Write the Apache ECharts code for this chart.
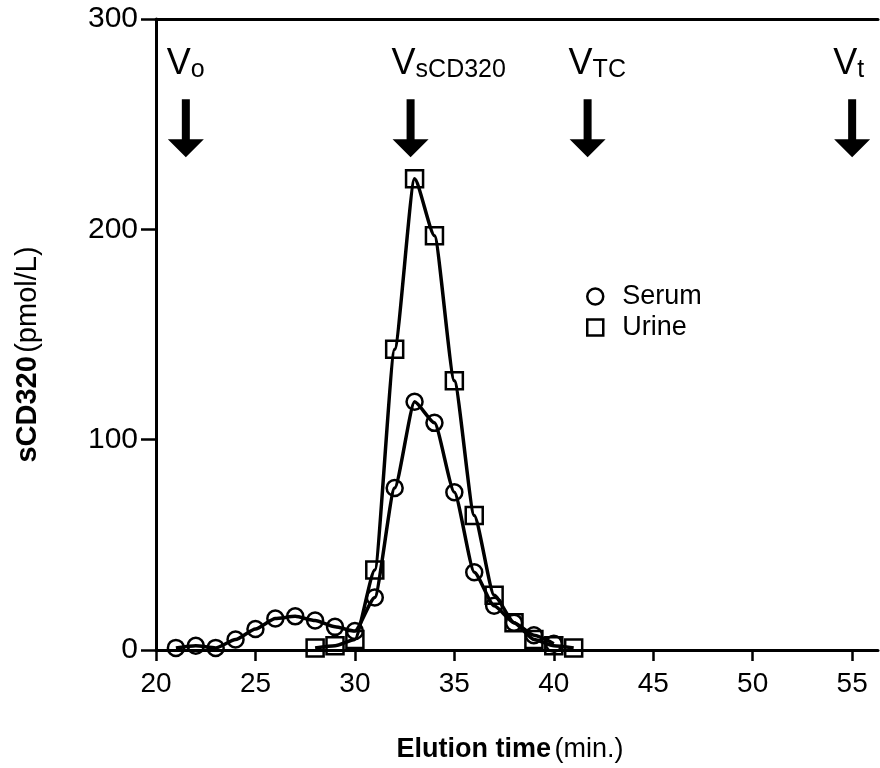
<!DOCTYPE html>
<html>
<head>
<meta charset="utf-8">
<script src="https://cdn.jsdelivr.net/npm/echarts@6/dist/echarts.min.js"></script>
<style>html,body{margin:0;padding:0;background:#fff}#c{width:880px;height:768px}</style>
</head>
<body>
<div id="c"></div>
<script>
var serumX = [21,22,23,24,25,26,27,28,29,30,31,32,33,34,35,36,37,38,39,40];
var serumY = [1,2,1,5,10,15,16,14,11,9,25,77,118,108,75,37,21,13,7,3];
var urineX = [28,29,30,31,32,33,34,35,36,37,38,39,40,41];
var urineY = [1,2,5,38,143,224,197,128,64,26,13,5,2,1];
var markerX = [21.5,32.8,41.7,55.0];
var markerY = [248,248,248,248];
var markerSub = ['o','sCD320','TC','t'];
var xTicks = [20,25,30,35,40,45,50,55];
var yTicks = [0,100,200,300];

var FONT = 'Liberation Sans';
function pairs(xs, ys){ return xs.map(function(x,i){ return [x, ys[i]]; }); }
var hollow = {color:'rgba(0,0,0,0)', borderColor:'#000', borderWidth:2.5};

var chart = echarts.init(document.getElementById('c'));
chart.setOption({
  animation:false,
  backgroundColor:'#fff',
  textStyle:{fontFamily:FONT, color:'#000'},
  grid:{left:156, right:2, top:19, bottom:110, containLabel:false},
  legend:{
    orient:'vertical', left:581, top:278, itemGap:4, itemWidth:16, itemHeight:16,
    textStyle:{fontFamily:FONT, fontSize:27, color:'#000', padding:[0,0,0,14]},
    data:[
      {name:'Serum', icon:'circle', itemStyle:{color:'#fff', borderColor:'#000', borderWidth:2.5}},
      {name:'Urine', icon:'rect', itemStyle:{color:'#fff', borderColor:'#000', borderWidth:2.5}}
    ]
  },
  xAxis:[{
    type:'value', min:20, max:56.3, position:'bottom',
    axisLine:{show:true, onZero:false, lineStyle:{color:'#000', width:3}},
    axisTick:{show:true, length:11, lineStyle:{color:'#000', width:2.5}, customValues:xTicks},
    axisLabel:{fontFamily:FONT, fontSize:28, color:'#000', margin:20, customValues:xTicks},
    splitLine:{show:false},
    name:'{b|Elution time} {n|(min.)}', nameLocation:'middle', nameGap:86,
    nameTextStyle:{padding:[0,14,0,0], rich:{b:{fontFamily:FONT, fontSize:27, fontWeight:'bold', color:'#000'}, n:{fontFamily:FONT, fontSize:27, color:'#000'}}}
  },{
    type:'value', min:20, max:56.3, position:'top',
    axisLine:{show:true, onZero:false, lineStyle:{color:'#000', width:3}},
    axisTick:{show:false}, axisLabel:{show:false}, splitLine:{show:false}
  }],
  yAxis:{
    type:'value', min:0, max:300, interval:100,
    axisLine:{show:true, lineStyle:{color:'#000', width:3}},
    axisTick:{show:true, length:15, lineStyle:{color:'#000', width:2.5}},
    axisLabel:{fontFamily:FONT, fontSize:30, color:'#000', margin:18},
    splitLine:{show:false},
    name:'{b|sCD320} {n|(pmol/L)}', nameLocation:'middle', nameGap:114, nameRotate:90,
    nameTextStyle:{padding:[0,40,0,0], rich:{b:{fontFamily:FONT, fontSize:29, fontWeight:'bold', color:'#000'}, n:{fontFamily:FONT, fontSize:29, color:'#000'}}}
  },
  series:[
    {name:'Urine', type:'line', data:pairs(urineX, urineY), smooth:0.2, smoothMonotone:'x',
     symbol:'rect', symbolSize:17, itemStyle:hollow, lineStyle:{color:'#000', width:3.5}, z:3},
    {name:'Serum', type:'line', data:pairs(serumX, serumY), smooth:0.2, smoothMonotone:'x',
     symbol:'circle', symbolSize:16, itemStyle:hollow, lineStyle:{color:'#000', width:3.5}, z:3},
    {name:'markers', type:'scatter', silent:true,
     data:markerX.map(function(x,i){ return {value:[x, markerY[i]], sub:markerSub[i]}; }),
     symbol:'path://M-4,0 L4,0 L4,40 L18,40 L0,58 L-18,40 L-4,40 Z', symbolSize:[36,58],
     itemStyle:{color:'#000', opacity:1},
     label:{show:true, position:'top', align:'left', distance:17, offset:[-19,0],
       formatter:function(p){ return '{v|V}{s|' + p.data.sub + '}'; },
       rich:{v:{fontFamily:FONT, fontSize:36, lineHeight:44, color:'#000', verticalAlign:'bottom'},
             s:{fontFamily:FONT, fontSize:25, lineHeight:25, color:'#000', verticalAlign:'bottom'}}}
    }
  ]
});
</script>
</body>
</html>
